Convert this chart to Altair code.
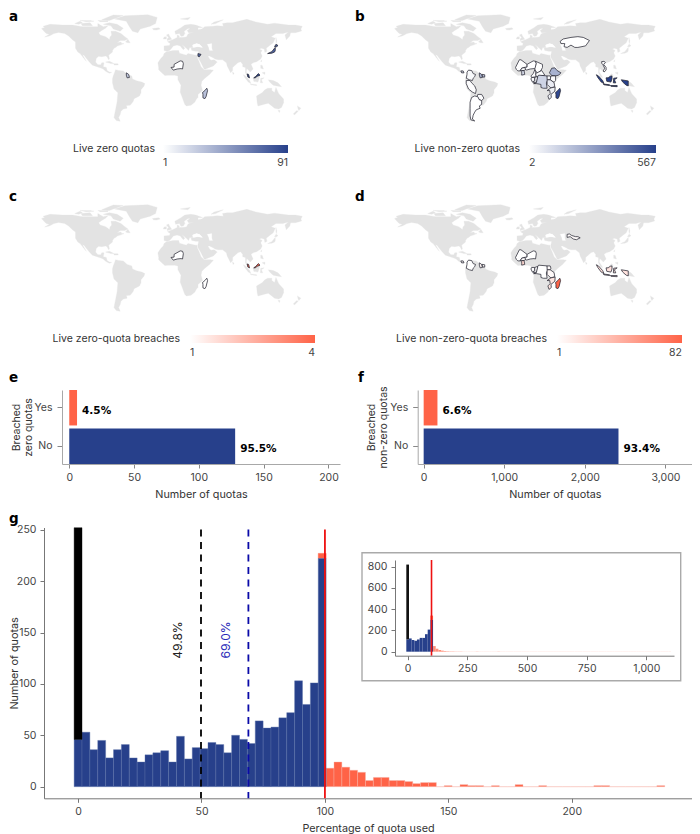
import altair as alt
import pandas as pd

NAVY = "#27408b"
TOMATO = "#ff6347"
LAND = "#e3e3e3"
TXT = "#333333"
FONT = "Inter"
HEAVY = "DejaVu Sans"
W, H = 684, 826
MAP_SCALE = 0.77

# ---- land outlines, lon/lat ----
north_america = [[-168,65.5],[-164,67],[-166,68.5],[-157,71],[-141,70],[-128,70],[-115,68],[-108,68],[-95,68],[-95,72],[-88,68],[-82,69],[-85,66],[-90,63],[-94,60],[-92,57],[-85,55],[-82,53],[-80,51],[-79,55],[-77,57],[-78,62],[-72,62],[-65,59],[-60,55],[-56,52],[-60,50],[-66,50],[-70,47],[-65,48],[-64,46],[-61,46],[-66,44],[-70,43],[-71,41.5],[-74,40],[-76,37],[-76,35],[-81,31],[-80,26],[-81,25],[-83,29],[-85,30],[-90,29],[-94,29.5],[-97,27],[-98,22],[-95,18.5],[-91,18.5],[-90,21],[-87,21],[-88,16],[-84,15],[-83,11],[-80,9],[-77,8.5],[-80,7.5],[-85,10],[-88,13],[-92,14.5],[-96,16],[-102,18],[-106,22],[-110,27],[-113,31],[-115,31.5],[-110,23],[-114,28],[-118,33],[-121,35],[-124,40],[-124,48],[-128,51],[-133,56],[-138,59],[-146,60.5],[-152,59],[-158,56],[-164,54.5],[-158,58],[-162,59],[-165,62]]
baffin = [[-80,73],[-70,71],[-62,66],[-66,62],[-75,65],[-78,69],[-88,71]]
victoria = [[-117,72],[-105,73],[-102,69],[-115,69]]
ellesmere = [[-90,77],[-75,83],[-62,82.5],[-75,78],[-80,76]]
banks = [[-125,72],[-118,75],[-115,73],[-120,71]]
melville = [[-118,76],[-105,76],[-100,75],[-110,74.5]]
devon = [[-95,76],[-82,76],[-82,74.5],[-92,74.5]]
newfoundland = [[-59,48],[-56,51.5],[-53,47],[-56,47]]
greenland = [[-73,78],[-60,82],[-30,83.5],[-18,80],[-20,72],[-27,68.5],[-40,65],[-43,60],[-50,62],[-54,68],[-58,75]]
iceland = [[-24,65.5],[-16,66.5],[-14,65],[-19,63.5],[-23,64]]
cuba = [[-85,22],[-80,23],[-74,20],[-78,20]]
hispaniola = [[-74,19.8],[-69,19.8],[-68.5,18.3],[-74,18.2]]
south_america = [[-73,9],[-72,12],[-68,11],[-62,10.5],[-57,6],[-51,4],[-50,0],[-44,-2.5],[-38,-4],[-34,-6],[-35,-9],[-39,-14],[-39,-18],[-41,-22],[-48,-25.5],[-49,-29],[-53,-34],[-58,-34.5],[-57,-38],[-62,-39],[-65,-42],[-66,-46],[-68,-50],[-66,-55],[-71,-54],[-74,-50],[-72,-40],[-70,-30],[-69,-18],[-74,-13],[-76,-5],[-76,0],[-75,4]]
africa = [[-6,35.5],[3,37],[10,37],[11,33.5],[20,31],[22,33],[32,31],[34,31],[34,28],[37,21],[39,16],[43,12],[51,12],[55,11.5],[50,6],[44,1],[40,-3],[39,-8],[41,-15],[35,-20],[35,-24],[33,-26],[31,-30],[26,-34],[20,-35],[18,-33],[15,-25],[12,-17],[13,-8],[9,-1],[9,4],[5,5],[-4,5],[-8,4.5],[-13,9],[-16,12],[-16,15],[-17,21],[-13,27],[-10,30],[-9,33]]
madagascar = [[46.5,-12],[47.5,-15],[45.5,-23],[44,-25.5],[41.5,-24.5],[41.5,-20],[41,-17.5],[44,-15]]
eurasia = [[-9,37],[-9,43],[-2,43.5],[-1,46],[-4.5,48.5],[2,51],[4,52],[8,54],[8,57],[11,56],[10,54],[14,54],[20,54.5],[22,58],[24,59.5],[30,60],[23,60],[21,63],[25,65.5],[22,65.5],[17,62],[18,59],[16,56],[13,55.5],[11,59],[6,58],[5,62],[12,66],[18,70],[26,71],[32,70],[41,67],[35,66.5],[35,64],[40,65],[44,68],[54,68.5],[60,69],[68,68.5],[67,72],[73,73],[80,73],[88,75],[100,77.5],[113,74],[130,71],[140,72.5],[160,70],[170,70],[180,68.5],[178,65],[179,62.5],[170,60],[163,60],[162,56],[157,51],[155,57],[160,61],[152,59],[142,59],[135,55],[141,53],[138,47],[132,43],[128,40],[129,36],[126,34.5],[125,39],[121,40],[118,39],[122,37],[120,34],[122,30],[120,26],[114,22.5],[109,21],[106,19],[109,13],[105,9],[102,12],[100,13.5],[99,9],[103,4],[104,1.5],[101,3],[98,8],[98,15],[94,16],[94,19],[91,22.5],[87,21],[80,15],[80,11],[77.5,8],[73,17],[72,21],[67,25],[61,25],[57,26],[56,27],[50,30],[48,30],[50,26],[52,24.5],[56,25],[60,22],[55,17],[45,13],[43,13],[39,21],[35,28],[35,31.5],[36,36],[32,36],[27,37],[26,40],[29,41],[35,42],[41,41],[37,45],[33,46],[28,44],[28,41],[24,40.5],[23,37],[20,40],[14,45],[18,40],[16,38],[12,43],[8,44],[3,43],[0,39],[-2,37],[-5,36]]
britain = [[-5,50],[1,51.5],[-2,56],[-3,58.5],[-6,57],[-3,54],[-5,52]]
ireland = [[-10,52],[-6,52],[-6,55],[-9,54.5]]
svalbard = [[12,78],[25,80],[22,77]]
novaya = [[52,71],[56,74],[68,77],[58,72]]
sakhalin = [[142,54],[143,50],[143,46],[142,48]]
taiwan = [[120,23],[121.5,25],[121,22]]
sri_lanka = [[80,9.5],[82,7],[80.5,6]]
luzon = [[120,18],[122,18],[124,13],[120,14]]
mindanao = [[122,8],[126,9],[126,6]]
borneo = [[109,1.5],[113,3],[117,7],[119,5],[117.5,0],[116,-4],[110,-3]]
sumatra = [[95,5.5],[98,4],[104,-2],[106,-6],[102,-4],[97,2]]
java = [[105,-6.5],[114,-7.5],[114,-8.5],[106,-7.5]]
sulawesi = [[119.5,-5],[120,1],[125,1.5],[121,-1],[123,-5]]
new_guinea = [[131,-1],[138,-2],[145,-5],[150,-10],[143,-9],[138,-8],[133,-4]]
australia = [[114,-22],[122,-18],[126,-14],[130,-12],[136,-12],[136,-15],[140,-17.5],[142,-11],[146,-19],[153,-26],[153,-31],[150,-37],[146,-39],[140,-38],[136,-35],[131,-31.5],[124,-33],[116,-35],[115,-31]]
tasmania = [[145,-41],[148,-41],[147,-43.5]]
nz_north = [[173,-35],[178,-38],[175,-41],[174,-39]]
nz_south = [[172,-41],[174,-42],[169,-46.5],[167,-45.5]]
caspian = [[47,45],[53,46],[53,40],[54,37],[50,37],[49,41]]
black_sea = [[28,44],[33,46],[37,45],[41,41],[35,42],[29,41]]

# ---- highlighted countries ----
niger = [[0,15],[4,15.5],[4,19],[12,23.5],[15,23],[16,20],[15,13],[13,13.5],[8,13],[3,11.5]]
guyana = [[-58,8],[-55,6],[-54,2],[-57,1.5],[-58,5]]
suriname = [[-54.5,6],[-51,5.5],[-51,2.5],[-53.5,2.5]]
jordan = [[35,33],[39,32],[37,29],[35,29.5]]
honshu = [[130,33],[136,35.5],[140,40],[141,41],[141,37],[140,35],[136,33.5]]
hokkaido = [[140,42],[142,45],[145,43.5],[143,42]]
malaya = [[100.5,6.5],[102.5,6],[103.5,2.5],[104,1.5],[101.5,2.5]]
sabah = [[110,1.5],[113,3.5],[116.5,7],[119,5],[115,3.5],[112,1.5]]
kazakhstan = [[47,49],[51,52],[61,54],[70,55],[77,54],[85,50],[80,43],[70,41],[66,41],[61,44],[56,41],[52,42],[53,46],[48,46]]
costa_rica = [[-82,10.5],[-79,10.5],[-78,8],[-81,8]]
colombia = [[-72,11.5],[-68,11],[-66,7],[-63,6],[-64,3],[-66,1],[-67,-2],[-71,-1],[-75,1],[-74,6],[-74,9]]
peru = [[-75,-2],[-70,-2],[-68,-5],[-64,-9],[-62,-14],[-63,-19],[-67,-17],[-72,-13],[-75,-6]]
paraguay = [[-60,-20],[-55,-20],[-52,-25],[-55,-28],[-58,-27],[-61,-23]]
argentina = [[-64,-22],[-60,-23],[-58,-27],[-55,-28],[-55,-33],[-58,-35],[-57,-38],[-62,-40],[-64,-43],[-66,-47],[-67,-52],[-64,-54.5],[-69,-53],[-70,-48],[-70,-38],[-70,-30],[-68,-24]]
mali = [[-11,15],[-6,25],[-4,25],[4,19],[4,15],[1,15],[-3,14],[-5,10.5],[-8,10.5],[-10,12.5]]
chad = [[14,13],[16,20],[15,23],[24,19],[24,15],[22,11],[18,8],[15,10]]
ghana = [[-3,11],[0,11],[1,6],[-3,5],[-3,7]]
burkina = [[-5,10.5],[-3,14],[1,15],[2,12],[0,11],[-3,11]]
cameroon = [[9,4],[12,7],[14,12],[15,10],[16,3],[10,2]]
gabon = [[9,0],[10,2],[14,2],[14,-2],[11,-4]]
congo = [[12,-4.5],[14,-2],[14,2],[18,3.5],[17,-2],[15,-4.5]]
drc = [[12.5,-6],[16,-5],[18,3.5],[19,5],[30,4],[31,-1],[29,-5],[30,-12],[25,-12],[22,-11],[22,-7],[16,-6]]
car = [[15,7],[19,9],[23,11],[27,5],[22,4],[18,3.5],[16,3]]
ethiopia = [[36,14],[40,14.5],[43,11],[48,8],[45,5],[41,4],[36,4.5],[33,8]]
uganda = [[30,-1],[30,4],[34,4],[35,1],[34,-1]]
kenya = [[34,-1],[35,4],[41,4],[41,-2],[39,-4.5]]
tanzania = [[30,-1],[34,-1],[39,-4.5],[40,-10],[35,-11.5],[32,-9],[30,-7]]
mozambique = [[35,-11.5],[40.5,-10.5],[40,-16],[35,-20],[35.5,-24],[32.5,-26.5],[31,-22],[34,-19],[33.5,-15],[30,-15]]
vietnam = [[102.5,22.5],[106,23],[108,21.5],[105.5,19],[109,15],[109,11.5],[106,9],[105,10.5],[107,14],[104.5,18.5],[103,20]]
uzbekistan = [[56,45],[59,45.5],[62,43.5],[67,42],[70,42],[73,40.5],[68,38],[64,39],[60,42],[56,41]]
kalimantan = [[109,1.5],[112,1.5],[115,3.5],[117.5,4],[117.5,0],[116,-4],[110,-3]]
papua = [[131,-1],[141,-2.5],[141,-9],[138,-8],[133,-4]]
sunda = [[115,-8.5],[125,-8.5],[125,-10],[116,-9.5]]
indonesia = [sumatra, java, kalimantan, sulawesi, papua, sunda]

land_shapes = [north_america, baffin, victoria, ellesmere, banks, melville, devon, newfoundland, greenland, iceland,
               cuba, hispaniola, south_america, africa, madagascar, eurasia, britain, ireland, svalbard, novaya,
               sakhalin, taiwan, sri_lanka, luzon, mindanao, borneo, sumatra, java, sulawesi, new_guinea, australia,
               tasmania, nz_north, nz_south, honshu, hokkaido]
sea_shapes = [caspian, black_sea]

# value per country, per panel
zero_live = [(niger,1),(guyana,25),(jordan,70),(madagascar,30),(honshu,75),(hokkaido,75),(malaya,91),(sabah,91)]
nonzero_live = [(kazakhstan,2),(costa_rica,90),(colombia,20),(peru,8),(paraguay,10),(argentina,4),(guyana,220),(suriname,170),
                (mali,5),(niger,4),(chad,5),(burkina,12),(ghana,110),(cameroon,8),(gabon,12),(congo,25),(car,6),(drc,130),
                (ethiopia,230),(uganda,15),(kenya,10),(tanzania,60),(mozambique,40),(madagascar,540),(vietnam,8)] + [(p,567) for p in indonesia]
zero_breach = [(niger,1),(madagascar,1),(malaya,4),(sabah,4)]
nonzero_breach = [(uzbekistan,3),(costa_rica,4),(colombia,1),(guyana,5),(suriname,3),(mali,1),(niger,1),(burkina,2),(ghana,22),
                  (gabon,1),(congo,1),(drc,1),(uganda,3),(tanzania,4),(mozambique,14),(madagascar,82)] + [(p,16) for p in indonesia]

breach_zero = pd.DataFrame({"cat":["Yes","No"],"n":[6,128],"pct":["4.5%","95.5%"]})
breach_nonzero = pd.DataFrame({"cat":["Yes","No"],"n":[171,2417],"pct":["6.6%","93.4%"]})

# ---- histograms ----
bin_main = 3.19
blue_main = [46,53,36,45,28,36,41,28,24,31,33,35,24,49,27,38,37,43,41,33,50,46,42,64,57,58,67,72,103,80,101,222]
tomato_main = [18,24,19,16,14,6,9,9,6,6,5,3,4,4,0,1,0,2,1,1,0,1,0,0,2,0,0,1,0,0,0,0,0,0,1,1,0,0,0,0,0,0,1]
bar_top_main = 227
zero_top_main = 252
bin_inset = 11.2
blue_inset = [116,125,110,103,115,130,130,165,208,300]
tomato_inset = [53,28,16,10,6,4,3,3,2,2,2,1,1,1,1,1,2,1,1,1,1,1,1,1,2,1,1,1,1,1,1,1,1,1,1,1,1,1,1,1,1,1,1,1,1,1,1,1,1,1,1,1,1,1,1,1,1,1,1,1,1,1,1,1,1,1,1,1,1,1,1,1,1,1,1,1,1,1,1,1,1,1,1,1,1,1,1,1,1]
bar_top_inset = 340
zero_top_inset = 820


def warp(p):
    lon, lat = p
    return [lon - (lon - 85) * 0.1 if lon > 85 else lon, lat]


def feature(ring, value, dx, dy):
    pts = [warp(p) for p in ring]
    pts = [[a + dx / MAP_SCALE, b - dy / MAP_SCALE] for a, b in pts]
    return {"type": "Feature", "properties": {"v": value},
            "geometry": {"type": "Polygon", "coordinates": [pts + [pts[0]]]}}


dummy = pd.DataFrame({"a": [0]})
PROJ = dict(type="identity", reflectY=True, scale=MAP_SCALE, translate=[163, 71])


def text(t, x, y, size=11, color=TXT, font=FONT, weight="normal", align="left", baseline="middle", angle=None):
    kw = {} if angle is None else {"angle": angle}
    return alt.Chart(dummy).mark_text(text=t, font=font, fontSize=size, color=color, fontWeight=weight,
                                      align=align, baseline=baseline, **kw).encode(x=alt.value(x), y=alt.value(y))


def heavy(t, x, y):
    return text(t, x, y, size=13.5, color="black", font=HEAVY, weight="bold")


def map_panel(shapes, lo, hi, high, title, title_end, title_y, grad_x, grad_y, grad_len, dx, dy):
    land = alt.Chart(alt.Data(values=[feature(r, 0, dx, dy) for r in land_shapes])).mark_geoshape(
        fill=LAND, stroke=LAND, strokeWidth=0.3).project(**PROJ)
    seas = alt.Chart(alt.Data(values=[feature(r, 0, dx, dy) for r in sea_shapes])).mark_geoshape(
        fill="white", stroke="white", strokeWidth=0.2).project(**PROJ)
    countries = alt.Chart(alt.Data(values=[feature(r, v, dx, dy) for r, v in shapes])).mark_geoshape(
        stroke="#2a2a35", strokeWidth=0.75).encode(
        color=alt.Color("properties.v:Q",
                        scale=alt.Scale(domain=[lo, hi], range=["#ffffff", high], interpolate="rgb"),
                        legend=alt.Legend(orient="none", legendX=grad_x, legendY=grad_y, direction="horizontal",
                                          title=None, gradientLength=grad_len, gradientThickness=8,
                                          gradientStrokeWidth=0, values=[lo, hi], labelAlign="center",
                                          labelFont=FONT, labelFontSize=10.5, labelColor="#444444",
                                          labelOffset=5, padding=0))
    ).project(**PROJ)
    return alt.layer(land, seas, countries, text(title, title_end, title_y, size=10.5, align="right"))


panel_a = map_panel(zero_live, 1, 91, NAVY, "Live zero quotas", 147, 141, 155, 137, 125, 0, 0)
panel_b = map_panel(nonzero_live, 2, 567, NAVY, "Live non-zero quotas", 512, 141, 521, 137, 127, 353, 0)
panel_c = map_panel(zero_breach, 1, 4, TOMATO, "Live zero-quota breaches", 172, 331, 182, 327, 125, 0, 190)
panel_d = map_panel(nonzero_breach, 1, 82, TOMATO, "Live non-zero-quota breaches", 539, 331, 549, 327, 125, 353, 190)


def bar_panel(df, domain, ticks, fmt, ytitle, xrange, band):
    x = alt.X("n:Q", scale=alt.Scale(domain=domain, range=xrange, nice=False, zero=False),
              axis=alt.Axis(orient="bottom", values=ticks, format=fmt, title="Number of quotas", grid=False, offset=band[1] - H))
    y = alt.Y("cat:N", sort=["Yes", "No"],
              scale=alt.Scale(domain=["Yes", "No"], range=band, paddingInner=0.08, paddingOuter=0),
              axis=alt.Axis(orient="left", title=ytitle, labelPadding=5, titlePadding=1, titleLineHeight=12, tickSize=5,
                            titleFontSize=10.5, offset=-xrange[0]))
    bars = alt.Chart(df).mark_bar().encode(
        x=x, y=y, color=alt.Color("cat:N", scale=alt.Scale(domain=["Yes", "No"], range=[TOMATO, NAVY]), legend=None))
    labels = alt.Chart(df).mark_text(align="left", dx=5, dy=3, font=HEAVY, fontWeight="bold", fontSize=10.5,
                                     color="black").encode(x=x, y=y, text="pct:N")
    return alt.layer(bars, labels)


panel_e = bar_panel(breach_zero, [-5.6, 208.9], [0, 50, 100, 150, 200], "d", ["Breached", "zero quotas"], [54, 332], [382, 456])
panel_f = bar_panel(breach_nonzero, [-74, 3329], [0, 1000, 2000, 3000], ",d", ["Breached", "non-zero quotas"], [409.7, 684], [382, 456])


def hist_frame(values, width, start):
    return pd.DataFrame({"lo": [(start + i - 0.5) * width for i in range(len(values))],
                         "hi": [(start + i + 0.5) * width for i in range(len(values))],
                         "n": values, "base": [0] * len(values)})


main_blue = hist_frame(blue_main, bin_main, 0)
main_tom = hist_frame(tomato_main, bin_main, len(blue_main))
main_zero = pd.DataFrame({"lo": [-0.5 * bin_main], "hi": [0.5 * bin_main], "base": [blue_main[0]], "n": [zero_top_main]})
main_cap = pd.DataFrame({"lo": [(len(blue_main) - 1) * bin_main - 0.5 * bin_main], "hi": [(len(blue_main) - 0.5) * bin_main],
                         "base": [blue_main[-1]], "n": [bar_top_main]})
inset_blue = hist_frame(blue_inset, bin_inset, 0)
inset_tom = hist_frame(tomato_inset, bin_inset, len(blue_inset))
inset_zero = pd.DataFrame({"lo": [-0.5 * bin_inset], "hi": [0.5 * bin_inset], "base": [blue_inset[0]], "n": [zero_top_inset]})
inset_cap = pd.DataFrame({"lo": [(len(blue_inset) - 1) * bin_inset - 0.5 * bin_inset], "hi": [(len(blue_inset) - 0.5) * bin_inset],
                          "base": [blue_inset[-1]], "n": [bar_top_inset]})

MAIN_TOP, MAIN_BOTTOM = 519.5, 790.3
mx_scale = alt.Scale(domain=[-13.8, 248.7], range=[36, 684], nice=False, zero=False)
my_scale = alt.Scale(domain=[-11.3, 252.2], range=[MAIN_BOTTOM, MAIN_TOP], nice=False, zero=False)
mx_axis = alt.Axis(orient="bottom", values=[0, 50, 100, 150, 200], title="Percentage of quota used", grid=False, offset=MAIN_BOTTOM - H,
                   domainColor="#777777", tickColor="#777777")
my_axis = alt.Axis(orient="left", values=[0, 50, 100, 150, 200, 250], title="Number of quotas", grid=False, titlePadding=-3, offset=-36,
                   domainColor="#777777", tickColor="#777777")


def mhist(df, color, seam):
    return alt.Chart(df).mark_rect(color=color, stroke=seam, strokeWidth=0.4).encode(
        x=alt.X("lo:Q", scale=mx_scale, axis=mx_axis), x2="hi:Q",
        y=alt.Y("base:Q", scale=my_scale, axis=my_axis), y2="n:Q")


def mrule(v, color, **kw):
    return alt.Chart(pd.DataFrame({"v": [v]})).mark_rule(color=color, **kw).encode(
        x=alt.X("v:Q", scale=mx_scale, axis=mx_axis), y=alt.value(MAIN_TOP + 2), y2=alt.value(MAIN_BOTTOM))


panel_g = alt.layer(
    mhist(main_tom, TOMATO, "#f6b7ab"),
    mhist(main_cap, TOMATO, TOMATO),
    mhist(main_blue, NAVY, "#5c71a8"),
    mhist(main_zero, "black", "black"),
    mrule(49.8, "black", strokeWidth=1.8, strokeDash=[7, 5.5]),
    mrule(69.0, "#0a0aa8", strokeWidth=1.8, strokeDash=[7, 5.5]),
    mrule(100, "#ee1111", strokeWidth=1.8),
    text("49.8%", 170.3, 632, size=12, color="#222222", align="center", angle=270),
    text("69.0%", 218, 632, size=12, color="#2a2ab8", align="center", angle=270),
)

INSET_TOP, INSET_BOTTOM = 552, 647.7
ix_scale = alt.Scale(domain=[-53, 1116], range=[387, 666], nice=False, zero=False)
iy_scale = alt.Scale(domain=[-37.6, 863], range=[INSET_BOTTOM, INSET_TOP], nice=False, zero=False)
ix_axis = alt.Axis(orient="bottom", values=[0, 250, 500, 750, 1000], format=",d", title=None, grid=False, offset=INSET_BOTTOM - H, zindex=1,
                   domainColor="#777777", tickColor="#777777")
iy_axis = alt.Axis(orient="left", values=[0, 200, 400, 600, 800], title=None, grid=False, offset=-387, zindex=1,
                   domainColor="#777777", tickColor="#777777")


def ihist(df, color):
    return alt.Chart(df).mark_rect(color=color).encode(
        x=alt.X("lo:Q", scale=ix_scale, axis=ix_axis), x2="hi:Q",
        y=alt.Y("base:Q", scale=iy_scale, axis=iy_axis), y2="n:Q")


inset_box = alt.Chart(dummy).mark_rect(fill="white", stroke="#aaaaaa", strokeWidth=1.4).encode(
    x=alt.value(354), x2=alt.value(672.7), y=alt.value(544.7), y2=alt.value(672.7))
inset = alt.layer(
    ihist(inset_tom, "#ff8f7a"),
    ihist(inset_cap, TOMATO),
    ihist(inset_blue, NAVY),
    ihist(inset_zero, "#111111"),
    alt.Chart(pd.DataFrame({"v": [100]})).mark_rule(color="#ee1111", strokeWidth=1.6).encode(
        x=alt.X("v:Q", scale=ix_scale, axis=ix_axis), y=alt.value(INSET_TOP), y2=alt.value(INSET_BOTTOM)),
)

letters = alt.layer(heavy("a", 1, 9), heavy("b", 347, 9), heavy("c", 1, 189), heavy("d", 347, 189),
                    heavy("e", 1, 370), heavy("f", 350, 370), heavy("g", 1, 511))

chart = alt.layer(panel_a, panel_b, panel_c, panel_d, panel_e, panel_f, panel_g, inset_box, inset, letters).resolve_scale(
    x="independent", y="independent", color="independent"
).properties(width=W, height=H, padding=0, background="white",
             autosize=alt.AutoSizeParams(type="none")).configure_view(stroke=None).configure_axis(
    labelFont=FONT, titleFont=FONT, labelFontSize=10.5, titleFontSize=10.8, labelColor="#444444",
    titleColor=TXT, titleFontWeight="normal", domainColor="#a8a8a8", tickColor="#888888", tickSize=4, labelPadding=4,
    titlePadding=6,
)

chart.save("out.html", embed_options={"renderer": "svg", "actions": False})
